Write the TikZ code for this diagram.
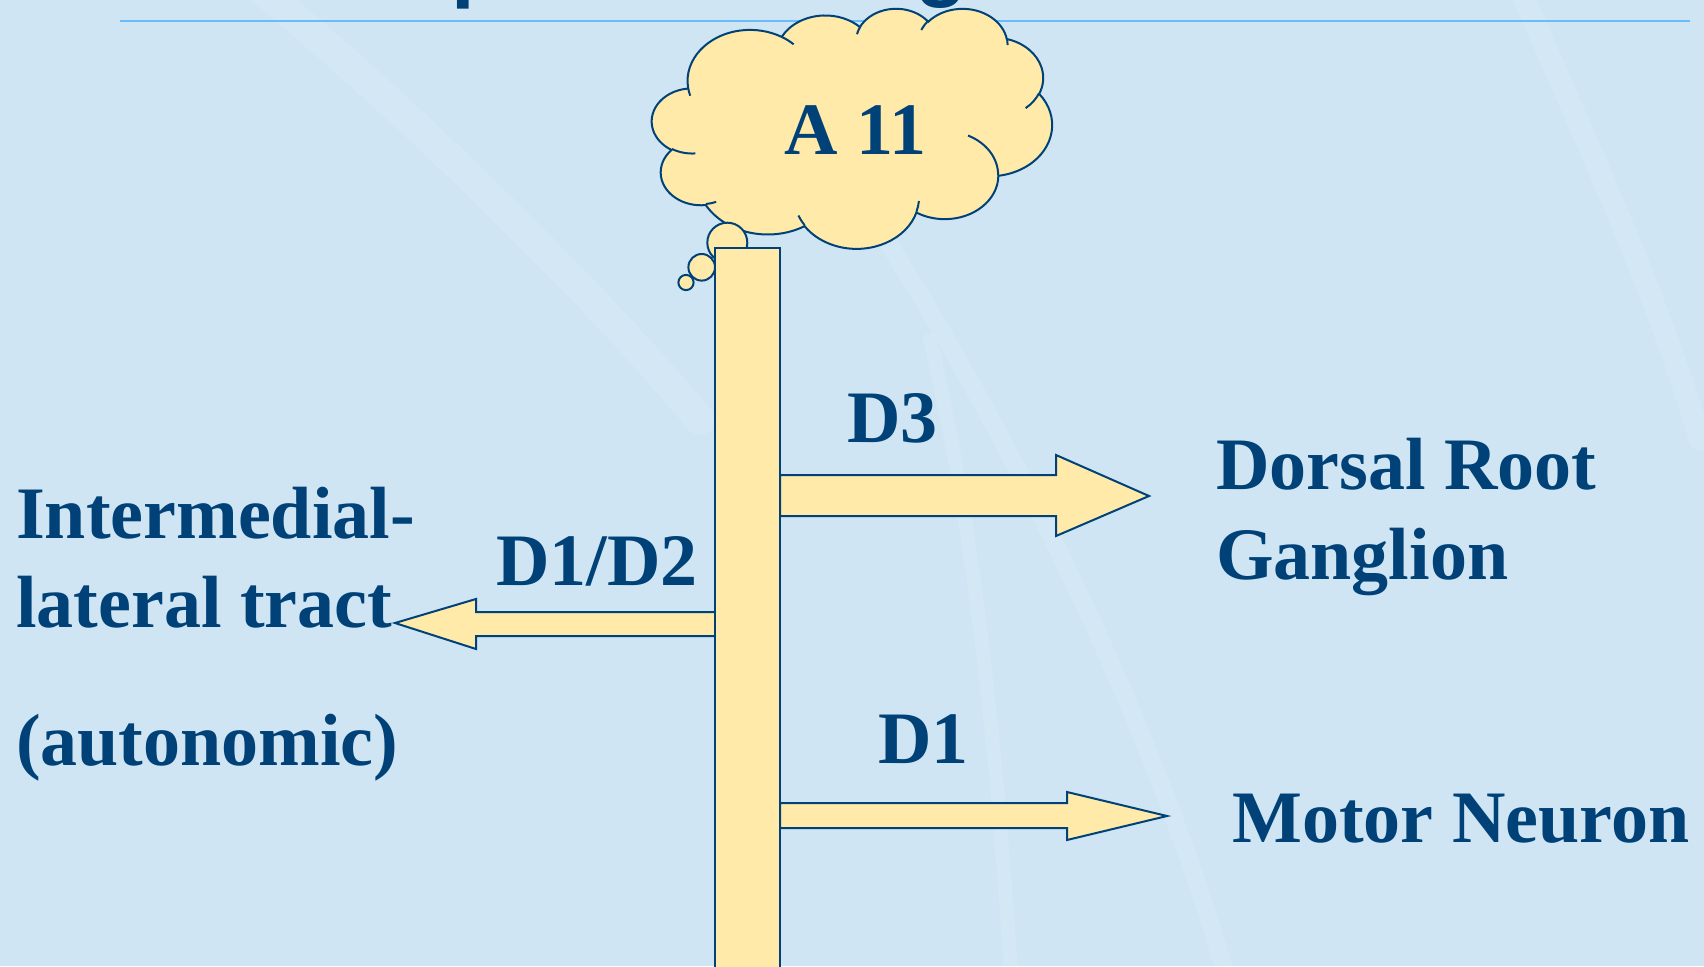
\documentclass[tikz,border=0pt]{standalone}
\usepackage{fontspec}
\setmainfont{Liberation Serif}
\newfontfamily\titlesans{Liberation Sans}
\definecolor{bg}{RGB}{207,229,243}
\definecolor{ink}{RGB}{0,66,120}
\definecolor{fillY}{RGB}{255,234,170}
\definecolor{rulec}{RGB}{105,188,250}
\tikzset{
  shapeline/.style={draw=ink, line width=2pt, fill=fillY, line join=miter},
  inkline/.style={draw=ink, line width=2pt},
  lbl/.style={text=ink, font=\fontsize{74}{80}\selectfont\bfseries, inner sep=0pt, anchor=base west},
  titlefrag/.style={text=ink, font=\titlesans\fontsize{85}{90}\selectfont\bfseries, inner sep=0pt, anchor=base west},
  stripe/.style={draw=white, opacity=0.1, line cap=round},
  parc/.style n args={4}{insert path={arc[start angle={vis(#1,#2,#3)}, delta angle={mod(vis(#1,#2,#3+#4)-vis(#1,#2,#3)+720,360)}, x radius=#1, y radius=#2]}},
}
\begin{document}
\begin{tikzpicture}[x=1pt,y=-1pt, declare function={vis(\w,\h,\a)=atan2(\w*sin(\a),\h*cos(\a));}]
\useasboundingbox (0,0) rectangle (1704,966);
\fill[bg] (0,0) rectangle (1704,966);
% faint background streaks
\begin{scope}
\clip (0,0) rectangle (1704,966);
\draw[stripe, line width=30pt] (250,-20) .. controls (420,120) and (600,300) .. (700,420);
\draw[stripe, line width=22pt] (1516,-20) .. controls (1590,150) and (1660,300) .. (1700,440);
\draw[stripe, line width=18pt] (860,200) .. controls (980,380) and (1150,700) .. (1230,990);
\draw[stripe, line width=14pt] (930,340) .. controls (980,550) and (1000,800) .. (1012,990);
\end{scope}
% fragments of the cut-off title
\node[titlefrag] (tp) at (451,-8) {p};
\node[titlefrag] (tg) at (915,-9) {g};
% title rule
\coordinate (rl) at (120,21);
\coordinate (rr) at (1690,21);
\draw[draw=rulec, line width=2pt] (rl) -- (rr);
% cloud (A11)
\begin{scope}[shift={(652,8)}, x=9.2593pt, y=-5.5556pt]
\path[shapeline] (3.9,14.37)
  [parc={6.753}{9.190}{-190.4875}{123.7805}]
  [parc={5.333}{7.267}{-144.1024}{89.9452}]
  [parc={4.365}{5.945}{-145.8079}{99.7230}]
  [parc={4.857}{6.595}{-130.9861}{117.2417}]
  [parc={5.333}{7.273}{-78.7089}{109.0269}]
  [parc={6.775}{9.220}{-46.2673}{130.2690}]
  [parc={5.785}{7.867}{0.6250}{114.0333}]
  [parc={6.752}{9.215}{22.4516}{115.1726}]
  [parc={7.720}{10.543}{66.2426}{75.7110}]
  [parc={4.360}{5.918}{-274.9421}{146.7356}]
  [parc={4.345}{5.945}{-246.8285}{152.5189}]
  -- cycle;
\path[inkline] (4.693,26.177) [parc={4.345}{5.945}{86.742}{26.4295}]
  (6.928,34.899) [parc={4.360}{5.918}{73.6105}{11.4475}]
  (16.478,39.090) [parc={6.752}{9.215}{137.6242}{14.0811}]
  (28.827,34.751) [parc={6.752}{9.215}{6.4533}{15.9984}]
  (34.129,22.954) [parc={5.785}{7.867}{-70.2924}{70.9174}]
  (41.798,15.354) [parc={5.333}{7.273}{30.3180}{27.7515}]
  (38.324,5.426) [parc={4.857}{6.595}{-13.7443}{14.8589}]
  (29.078,3.952) [parc={4.857}{6.595}{-149.1815}{18.1954}]
  (22.141,4.720) [parc={4.365}{5.945}{-163.4943}{17.6864}]
  (14.000,5.192) [parc={6.753}{9.190}{-66.7070}{12.3194}]
  (4.127,15.789) [parc={6.753}{9.190}{157.6544}{11.8582}];
\end{scope}
% thought bubbles
\draw[shapeline] (727.3,242.7) circle[radius=20];
\draw[shapeline] (701.7,267.3) circle[radius=13.3];
\draw[shapeline] (686,282.5) circle[radius=7.6];
% block arrows
\draw[shapeline] (780,475) -- (1056,475) -- (1056,455) -- (1149,496) -- (1056,536) -- (1056,516) -- (780,516) -- cycle;
\draw[shapeline] (780,803) -- (1067,803) -- (1067,792) -- (1167,816) -- (1067,840) -- (1067,828) -- (780,828) -- cycle;
\draw[shapeline] (715,612) -- (476,612) -- (476,599) -- (395,623) -- (476,649) -- (476,636) -- (715,636) -- cycle;
% vertical bar
\draw[shapeline] (715,248) rectangle (780,1000);
% labels
\node[lbl] (a11) at (784,154) {A 11};
\node[lbl] (d3) at (847,442) {D3};
\node[lbl] (drg1) at (1216,489) {Dorsal Root};
\node[lbl] (drg2) at (1216,579) {Ganglion};
\node[lbl] (iml1) at (16,538) {Intermedial-};
\node[lbl] (d12) at (496,585) {D1/D2};
\node[lbl] (iml2) at (16,627) {lateral tract};
\node[lbl] (auto) at (16,765) {(autonomic)};
\node[lbl] (d1) at (878,763) {D1};
\node[lbl] (mn) at (1232,842) {Motor Neuron};
\end{tikzpicture}
\end{document}
